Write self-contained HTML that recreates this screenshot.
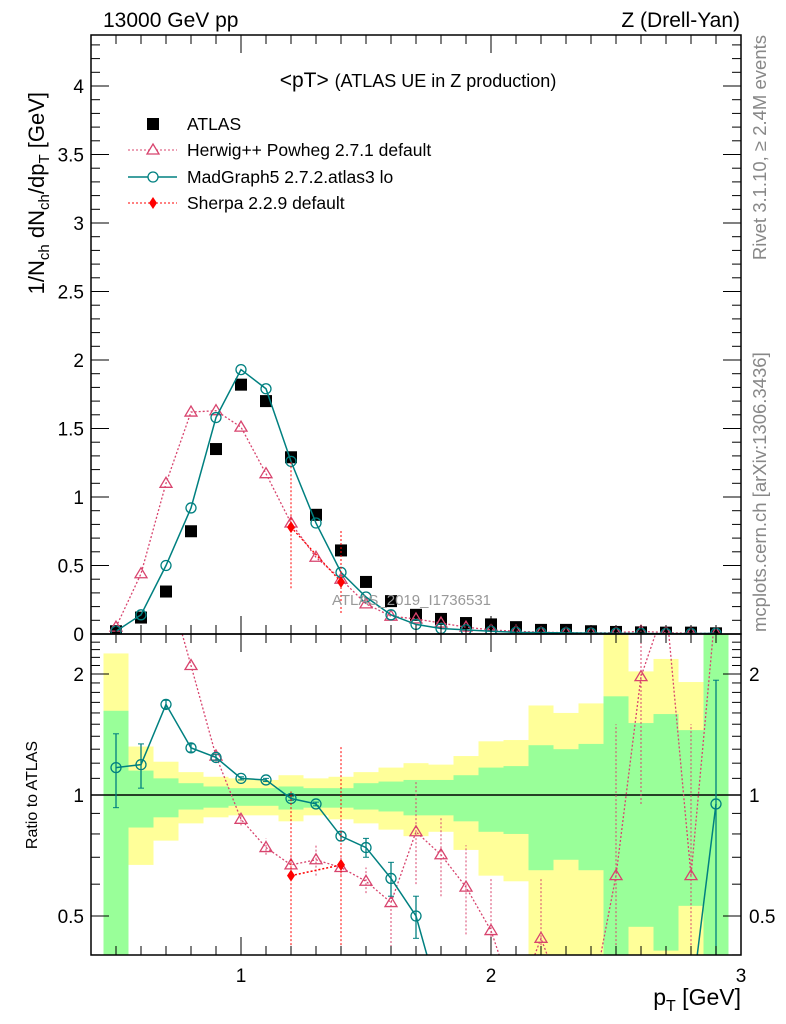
<!DOCTYPE html>
<html><head><meta charset="utf-8"><style>
body{margin:0;background:#fff;}
svg{display:block;font-family:"Liberation Sans",sans-serif;}
</style></head><body>
<svg id="c" width="786" height="1024" viewBox="0 0 786 1024"></svg>
<script>
const xs=[0.5,0.6,0.7,0.8,0.9,1.0,1.1,1.2,1.3,1.4,1.5,1.6,1.7,1.8,1.9,2.0,2.1,2.2,2.3,2.4,2.5,2.6,2.7,2.8,2.9];
const atlas=[0.02,0.12,0.31,0.75,1.35,1.82,1.70,1.29,0.87,0.61,0.38,0.24,0.14,0.11,0.08,0.07,0.05,0.03,0.03,0.02,0.015,0.012,0.01,0.01,0.005];
const herwig=[0.05,0.44,1.10,1.62,1.63,1.51,1.17,0.81,0.56,0.40,0.22,0.13,0.11,0.08,0.05,0.03,0.02,0.013,0.01,0.008,0.01,0.02,0.01,0.006,0.005];
const madgraph=[0.02,0.14,0.50,0.92,1.58,1.93,1.79,1.26,0.81,0.45,0.27,0.14,0.07,0.04,0.03,0.02,0.012,0.01,0.008,0.006,0.005,0.004,0.003,0.003,0.005];
const sherpaX=[1.2,1.4];
const sherpa=[0.78,0.38];
const sherpaRatio=[0.63,0.67];
const sherpaRatioLo=[0.3,0.3];
const sherpaRatioHi=[1.02,1.33];
const herwigRatio=[3.7,3.7,3.5,2.1,1.25,0.87,0.74,0.67,0.69,0.66,0.61,0.54,0.81,0.71,0.59,0.46,0.3,0.44,0.3,0.3,0.63,1.97,3.0,0.63,3.0];
const herwigRatioLo=[3.7,3.7,3.5,2.1,1.2,0.84,0.71,0.63,0.63,0.63,0.57,0.4,0.6,0.56,0.45,0.3,0.3,0.3,0.3,0.3,0.3,0.95,3.0,0.3,3.0];
const herwigRatioHi=[3.7,3.7,3.5,2.1,1.31,0.9,0.78,0.71,0.75,0.7,0.66,0.66,1.08,0.88,0.75,0.62,0.3,0.62,0.3,0.3,1.5,3.0,3.0,1.5,3.0];
const mgRatio=[1.17,1.19,1.68,1.31,1.24,1.10,1.09,0.98,0.95,0.79,0.74,0.62,0.50,0.3,0.3,0.3,0.3,0.3,0.3,0.3,0.3,0.3,0.3,0.3,0.95];
const mgRatioLo=[0.93,1.04,1.64,1.28,1.22,1.09,1.08,0.97,0.94,0.77,0.70,0.56,0.44,0.3,0.3,0.3,0.3,0.3,0.3,0.3,0.3,0.3,0.3,0.3,0.3];
const mgRatioHi=[1.42,1.34,1.72,1.34,1.26,1.11,1.10,0.99,0.96,0.81,0.78,0.68,0.56,0.3,0.3,0.3,0.3,0.3,0.3,0.3,0.3,0.3,0.3,0.3,1.93];
const yelHi=[2.25,1.32,1.21,1.14,1.11,1.10,1.09,1.12,1.10,1.11,1.14,1.17,1.20,1.19,1.25,1.36,1.37,1.67,1.60,1.69,3.0,2.03,2.18,1.91,3.0];
const grnHi=[1.62,1.15,1.10,1.07,1.05,1.04,1.04,1.05,1.04,1.04,1.07,1.08,1.09,1.09,1.12,1.17,1.18,1.33,1.30,1.34,1.76,1.51,1.59,1.45,3.0];
const grnLo=[0.3,0.83,0.88,0.92,0.93,0.94,0.94,0.92,0.93,0.93,0.92,0.91,0.89,0.89,0.86,0.81,0.80,0.65,0.69,0.65,0.3,0.47,0.41,0.53,0.3];
const yelLo=[0.3,0.67,0.77,0.85,0.88,0.89,0.89,0.86,0.89,0.87,0.85,0.82,0.79,0.81,0.73,0.63,0.61,0.3,0.3,0.3,0.3,0.3,0.3,0.3,0.3];
const yTicks=["0","0.5","1","1.5","2","2.5","3","3.5","4"];

const L=91,R=741,T=35,MB=634,RB=955;
const X=v=>L+(v-0.4)*250;
const Y=v=>MB-v*137;
const RYraw=r=>795-121*Math.log2(r);
const svg=document.getElementById('c');const NS='http://www.w3.org/2000/svg';
function el(tag,attrs,parent,name){const e=document.createElementNS(NS,tag);for(const k in attrs)e.setAttribute(k,attrs[k]);(parent||svg).appendChild(e);


return e;}
function txt(s,x,y,attrs,name){const t=el('text',Object.assign({x:x,y:y},attrs),null,name);t.textContent=s;return t;}

const defs=el('defs',{},null,'defs');
const cp=el('clipPath',{id:'rc'},defs,'ratio-clip');el('rect',{x:L,y:MB,width:R-L,height:RB-MB},cp,'clip-rect');
const cpm=el('clipPath',{id:'mc'},defs,'main-clip');el('rect',{x:L,y:T,width:R-L,height:MB-T},cpm,'clip-rect');
const rg=el('g',{'clip-path':'url(#rc)'},null,'ratio-panel');
const mg=el('g',{'clip-path':'url(#mc)'},null,'main-panel');

xs.forEach((x,i)=>{const x0=X(x-0.05),w=25;
 el('rect',{x:x0,y:RYraw(yelHi[i]),width:w,height:RYraw(yelLo[i])-RYraw(yelHi[i]),fill:'#ffff99'},rg,'band-yellow');
 el('rect',{x:x0,y:RYraw(grnHi[i]),width:w,height:RYraw(grnLo[i])-RYraw(grnHi[i]),fill:'#99ff99'},rg,'band-green');
});
el('line',{x1:L,x2:R,y1:795,y2:795,stroke:'#000','stroke-width':1.5},rg,'ratio-unity-line');

const HC='#d8446e',MC='#008080',SC='#ff0000';
function poly(xa,ya,f,attrs,g,name){el('polyline',Object.assign({points:xa.map((x,i)=>X(x)+','+f(ya[i])).join(' '),fill:'none'},attrs),g,name);}
function tri(x,y,c,g){el('path',{d:`M${x},${y-6}L${x+6},${y+4}L${x-6},${y+4}Z`,fill:'none',stroke:c,'stroke-width':1.3},g,'herwig-marker');}
function circ(x,y,c,g){el('circle',{cx:x,cy:y,r:5,fill:'none',stroke:c,'stroke-width':1.3},g,'madgraph-marker');}
function dia(x,y,c,g){el('path',{d:`M${x},${y-6}L${x+4},${y}L${x},${y+6}L${x-4},${y}Z`,fill:c},g,'sherpa-marker');}

atlas.forEach((v,i)=>el('rect',{x:X(xs[i])-6,y:Y(v)-6,width:12,height:12,fill:'#000'},mg,'atlas-point'));
poly(xs,herwig,Y,{stroke:HC,'stroke-width':1.3,'stroke-dasharray':'2,2'},mg,'herwig-line');
herwig.forEach((v,i)=>tri(X(xs[i]),Y(v),HC,mg));
poly(xs,madgraph,Y,{stroke:MC,'stroke-width':1.5},mg,'madgraph-line');
madgraph.forEach((v,i)=>circ(X(xs[i]),Y(v),MC,mg));
sherpaX.forEach((x,i)=>{el('line',{x1:X(x),x2:X(x),y1:Y(sherpa[i]*sherpaRatioLo[i]/sherpaRatio[i]*0.9),y2:Y(sherpa[i]*sherpaRatioHi[i]/sherpaRatio[i]),stroke:SC,'stroke-dasharray':'2,2'},mg,'sherpa-errorbar');});
poly(sherpaX,sherpa,Y,{stroke:SC,'stroke-width':1.3,'stroke-dasharray':'2,2'},mg,'sherpa-line');
sherpa.forEach((v,i)=>dia(X(sherpaX[i]),Y(v),SC,mg));

herwigRatio.forEach((v,i)=>{el('line',{x1:X(xs[i]),x2:X(xs[i]),y1:RYraw(herwigRatioLo[i]),y2:RYraw(herwigRatioHi[i]),stroke:HC,'stroke-dasharray':'2,2'},rg,'herwig-errorbar');});
poly(xs,herwigRatio,RYraw,{stroke:HC,'stroke-width':1.3,'stroke-dasharray':'2,2'},rg,'herwig-ratio-line');
herwigRatio.forEach((v,i)=>tri(X(xs[i]),RYraw(v),HC,rg));
mgRatio.forEach((v,i)=>{const x=X(xs[i]);el('line',{x1:x,x2:x,y1:RYraw(mgRatioLo[i]),y2:RYraw(mgRatioHi[i]),stroke:MC,'stroke-width':1.3},rg,'madgraph-errorbar');
 el('line',{x1:x-3,x2:x+3,y1:RYraw(mgRatioLo[i]),y2:RYraw(mgRatioLo[i]),stroke:MC},rg,'errcap');el('line',{x1:x-3,x2:x+3,y1:RYraw(mgRatioHi[i]),y2:RYraw(mgRatioHi[i]),stroke:MC},rg,'errcap');});
poly(xs,mgRatio,RYraw,{stroke:MC,'stroke-width':1.5},rg,'madgraph-ratio-line');
mgRatio.forEach((v,i)=>circ(X(xs[i]),RYraw(v),MC,rg));
sherpaX.forEach((x,i)=>el('line',{x1:X(x),x2:X(x),y1:RYraw(sherpaRatioLo[i]),y2:RYraw(sherpaRatioHi[i]),stroke:SC,'stroke-dasharray':'2,2'},rg,'sherpa-ratio-errorbar'));
poly(sherpaX,sherpaRatio,RYraw,{stroke:SC,'stroke-width':1.5,'stroke-dasharray':'2,2'},rg,'sherpa-ratio-line');
sherpaRatio.forEach((v,i)=>dia(X(sherpaX[i]),RYraw(v),SC,rg));

el('rect',{x:L,y:T,width:R-L,height:MB-T,fill:'none',stroke:'#000','stroke-width':1.5},null,'main-frame');
el('rect',{x:L,y:MB,width:R-L,height:RB-MB,fill:'none',stroke:'#000','stroke-width':1.5},null,'ratio-frame');
for(let k=5;k<=29;k++){const v=k/10,x=X(v),maj=(k%10===0);
 [[MB,-1],[T,1],[RB,-1],[MB,1]].forEach(([y0,d])=>el('line',{x1:x,x2:x,y1:y0,y2:y0+d*(maj?18:9),stroke:'#000'},null,'x-tick'));
}
for(let k=0;k<=43;k++){const v=k/10,y=Y(v),maj=(k%5===0);
 el('line',{x1:L,x2:L+(maj?18:9),y1:y,y2:y,stroke:'#000'},null,'y-tick');
 el('line',{x1:R,x2:R-(maj?18:9),y1:y,y2:y,stroke:'#000'},null,'y-tick');}
yTicks.forEach((s,i)=>txt(s,84,Y(i*0.5)+7,{'font-size':19,'text-anchor':'end'},'y-tick-label'));
[0.4,0.5,0.6,0.7,0.8,0.9,1,2].forEach(v=>{const y=RYraw(v),maj=(v===1||v===2||v===0.5);
 el('line',{x1:L,x2:L+(maj?18:9),y1:y,y2:y,stroke:'#000'},null,'ratio-y-tick');el('line',{x1:R,x2:R-(maj?18:9),y1:y,y2:y,stroke:'#000'},null,'ratio-y-tick');});
for(let v=1.1;v<2.5;v+=0.1){if(Math.abs(v-2)<0.01)continue;const y=RYraw(v);
 el('line',{x1:L,x2:L+9,y1:y,y2:y,stroke:'#000'},null,'ratio-y-tick');el('line',{x1:R,x2:R-9,y1:y,y2:y,stroke:'#000'},null,'ratio-y-tick');}
[["2",2],["1",1],["0.5",0.5]].forEach(([s,v])=>{txt(s,84,RYraw(v)+7,{'font-size':19,'text-anchor':'end'},'ratio-tick-label-left');txt(s,749,RYraw(v)+7,{'font-size':19},'ratio-tick-label-right');});
[["1",1],["2",2],["3",3]].forEach(([s,v])=>txt(s,X(v),982,{'font-size':19,'text-anchor':'middle'},'x-tick-label'));
</script>
<svg width="786" height="1024" style="position:absolute;left:0;top:0;font-family:'Liberation Sans',sans-serif">
<text x="103" y="27" font-size="21">13000 GeV pp</text>
<text x="740" y="27" font-size="21" text-anchor="end">Z (Drell-Yan)</text>
<text x="418" y="87" font-size="21" text-anchor="middle">&lt;pT&gt; <tspan font-size="18">(ATLAS UE in Z production)</tspan></text>
<g font-size="17.5">
<rect x="147" y="118" width="12" height="12" fill="#000"/>
<text x="187" y="130">ATLAS</text>
<line x1="128" x2="177" y1="150" y2="150" stroke="#d8446e" stroke-dasharray="2,2"/>
<path d="M153,144L159,154L147,154Z" fill="#fff" stroke="#d8446e" stroke-width="1.3"/>
<text x="187" y="156">Herwig++ Powheg 2.7.1 default</text>
<line x1="128" x2="177" y1="177" y2="177" stroke="#008080" stroke-width="1.5"/>
<circle cx="153" cy="177" r="5" fill="#fff" stroke="#008080" stroke-width="1.3"/>
<text x="187" y="183">MadGraph5 2.7.2.atlas3 lo</text>
<line x1="128" x2="177" y1="203" y2="203" stroke="#ff0000" stroke-dasharray="2,2"/>
<path d="M153,197L157,203L153,209L149,203Z" fill="#ff0000"/>
<text x="187" y="209">Sherpa 2.2.9 default</text>
</g>
<text x="332" y="605" font-size="15" fill="#999">ATLAS_2019_I1736531</text>
<text transform="translate(766,35) rotate(-90)" font-size="18.5" fill="#888" text-anchor="end">Rivet 3.1.10, ≥ 2.4M events</text>
<text transform="translate(766,632) rotate(-90)" font-size="18.5" fill="#888">mcplots.cern.ch [arXiv:1306.3436]</text>
<text transform="translate(44,92) rotate(-90)" font-size="22" text-anchor="end">1/N<tspan font-size="15" dy="5">ch</tspan><tspan dy="-5"> dN</tspan><tspan font-size="15" dy="5">ch</tspan><tspan dy="-5">/dp</tspan><tspan font-size="15" dy="5">T</tspan><tspan dy="-5"> [GeV]</tspan></text>
<text transform="translate(37,795) rotate(-90)" font-size="16" text-anchor="middle">Ratio to ATLAS</text>
<text x="741" y="1005" font-size="23" text-anchor="end">p<tspan font-size="16" dy="6">T</tspan><tspan dy="-6"> [GeV]</tspan></text>
</svg>
</body></html>
